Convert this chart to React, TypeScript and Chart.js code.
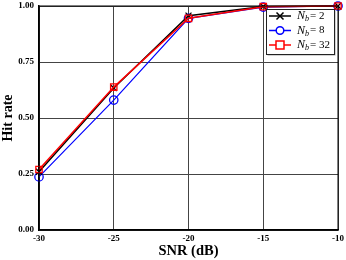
import React, { useEffect, useRef } from "react";
import { Chart, registerables } from "chart.js";

Chart.register(...registerables);

const snr = [-30, -25, -20, -15, -10];
const nb2 = [0.26, 0.634, 0.957, 0.998, 1.0];
const nb8 = [0.237, 0.58, 0.945, 0.995, 1.0];
const nb32 = [0.27, 0.638, 0.945, 0.997, 1.0];
const seriesLabels = ["2", "8", "32"];
const xTicks = [-30, -25, -20, -15, -10];
const yTicks = [0, 0.25, 0.5, 0.75, 1.0];

const colors = ["#000000", "#0000ff", "#ff0000"];
const markers = ["crossRot", "circle", "rect"];

const legendPlugin = {
  id: "customLegend",
  afterDraw(chart: any) {
    const ctx = chart.ctx;
    const area = chart.chartArea;
    const bx = area.right - 72;
    const by = area.top + 3;
    const bw = 68;
    const bh = 45;
    ctx.save();
    ctx.fillStyle = "rgba(0,0,0,0.35)";
    ctx.fillRect(bx + 1.5, by + 1.5, bw, bh);
    ctx.fillStyle = "#ffffff";
    ctx.fillRect(bx, by, bw, bh);
    ctx.strokeStyle = "#222";
    ctx.lineWidth = 1;
    ctx.strokeRect(bx + 0.5, by + 0.5, bw, bh);
    for (let i = 0; i < 3; i++) {
      const y = by + 7 + i * 14.5;
      const x0 = bx + 3;
      const x1 = bx + 25;
      const cx = (x0 + x1) / 2;
      ctx.strokeStyle = colors[i];
      ctx.lineWidth = 1.5;
      ctx.beginPath();
      ctx.moveTo(x0, y);
      ctx.lineTo(x1, y);
      ctx.stroke();
      ctx.beginPath();
      if (markers[i] === "crossRot") {
        ctx.moveTo(cx - 3.5, y - 3.5);
        ctx.lineTo(cx + 3.5, y + 3.5);
        ctx.moveTo(cx + 3.5, y - 3.5);
        ctx.lineTo(cx - 3.5, y + 3.5);
        ctx.stroke();
      } else if (markers[i] === "circle") {
        ctx.fillStyle = "#fff";
        ctx.arc(cx, y, 3.8, 0, Math.PI * 2);
        ctx.fill();
        ctx.stroke();
      } else {
        ctx.fillStyle = "#fff";
        ctx.rect(cx - 4, y - 4, 8, 8);
        ctx.fill();
        ctx.stroke();
      }
      ctx.fillStyle = "#000";
      ctx.textBaseline = "middle";
      ctx.textAlign = "left";
      let tx = bx + 31;
      ctx.font = "italic 12px 'Liberation Serif', serif";
      ctx.fillText("N", tx, y);
      tx += ctx.measureText("N").width;
      ctx.font = "italic 8px 'Liberation Serif', serif";
      ctx.fillText("b", tx, y + 3);
      tx += ctx.measureText("b").width + 1;
      ctx.font = "11px 'Liberation Serif', serif";
      ctx.fillText("= " + seriesLabels[i], tx, y);
    }
    ctx.restore();
  },
};

export default function App() {
  const ref = useRef<HTMLCanvasElement>(null);
  useEffect(() => {
    const mk = (data: number[], i: number, order: number) => ({
      label: "N_b = " + seriesLabels[i],
      data: snr.map((x, k) => ({ x, y: data[k] })),
      borderColor: colors[i],
      backgroundColor: i === 0 ? colors[i] : "rgba(255,255,255,0)",
      borderWidth: i === 1 ? 1.2 : 1.5,
      pointStyle: markers[i] as any,
      pointRadius: i === 2 ? 4.5 : 4.2,
      pointBorderWidth: 1.3,
      pointBorderColor: colors[i],
      pointBackgroundColor: "rgba(255,255,255,0)",
      tension: 0,
      order,
      clip: false as any,
    });
    const chart = new Chart(ref.current!, {
      type: "line",
      data: {
        datasets: [mk(nb2, 0, 1), mk(nb8, 1, 2), mk(nb32, 2, 0)],
      },
      options: {
        animation: false,
        responsive: false,
        devicePixelRatio: 1,
        layout: { padding: { top: 6, right: 8, left: 0, bottom: 0 } },
        plugins: { legend: { display: false }, tooltip: { enabled: false } },
        scales: {
          x: {
            type: "linear",
            min: -30,
            max: -10,
            afterBuildTicks: (s: any) => {
              s.ticks = xTicks.map((v) => ({ value: v }));
            },
            afterFit: (s: any) => {
              s.height = 30;
              s.paddingLeft = 0;
              s.paddingRight = 0;
            },
            ticks: {
              color: "#000",
              font: { family: "'Liberation Serif', serif", weight: "bold", size: 9 },
              padding: 3,
              maxRotation: 0,
              callback: (v: any) => String(v),
            },
            grid: { color: "#444", lineWidth: 1, drawTicks: false },
            border: { color: "#000", width: 1.5 },
            title: {
              display: true,
              text: "SNR (dB)",
              color: "#000",
              font: { family: "'Liberation Serif', serif", weight: "bold", size: 14.5 },
              padding: { top: 0, bottom: 0 },
            },
          },
          y: {
            type: "linear",
            min: 0,
            max: 1,
            afterBuildTicks: (s: any) => {
              s.ticks = yTicks.map((v) => ({ value: v }));
            },
            afterFit: (s: any) => {
              s.width = 39;
              s.paddingTop = 0;
              s.paddingBottom = 0;
            },
            ticks: {
              color: "#000",
              font: { family: "'Liberation Serif', serif", weight: "bold", size: 9 },
              padding: 5,
              callback: (v: any) => Number(v).toFixed(2),
            },
            grid: { color: "#444", lineWidth: 1, drawTicks: false },
            border: { color: "#000", width: 1.5 },
            title: {
              display: true,
              text: "Hit rate",
              color: "#000",
              font: { family: "'Liberation Serif', serif", weight: "bold", size: 14 },
              padding: { top: 0, bottom: 0 },
            },
          },
        },
      },
      plugins: [
        legendPlugin,
        {
          id: "frame",
          afterDraw(chart: any) {
            const a = chart.chartArea;
            const c = chart.ctx;
            c.save();
            c.strokeStyle = "#000";
            c.lineWidth = 1;
            c.strokeRect(a.left, a.top, a.right - a.left, a.bottom - a.top);
            c.restore();
          },
        },
      ],
    });
    return () => chart.destroy();
  }, []);
  return (
    <div style={{ position: "absolute", left: 0, top: 0, width: 346, height: 260, background: "#fff" }}>
      <canvas ref={ref} width={346} height={260} style={{ width: 346, height: 260 }} />
    </div>
  );
}
